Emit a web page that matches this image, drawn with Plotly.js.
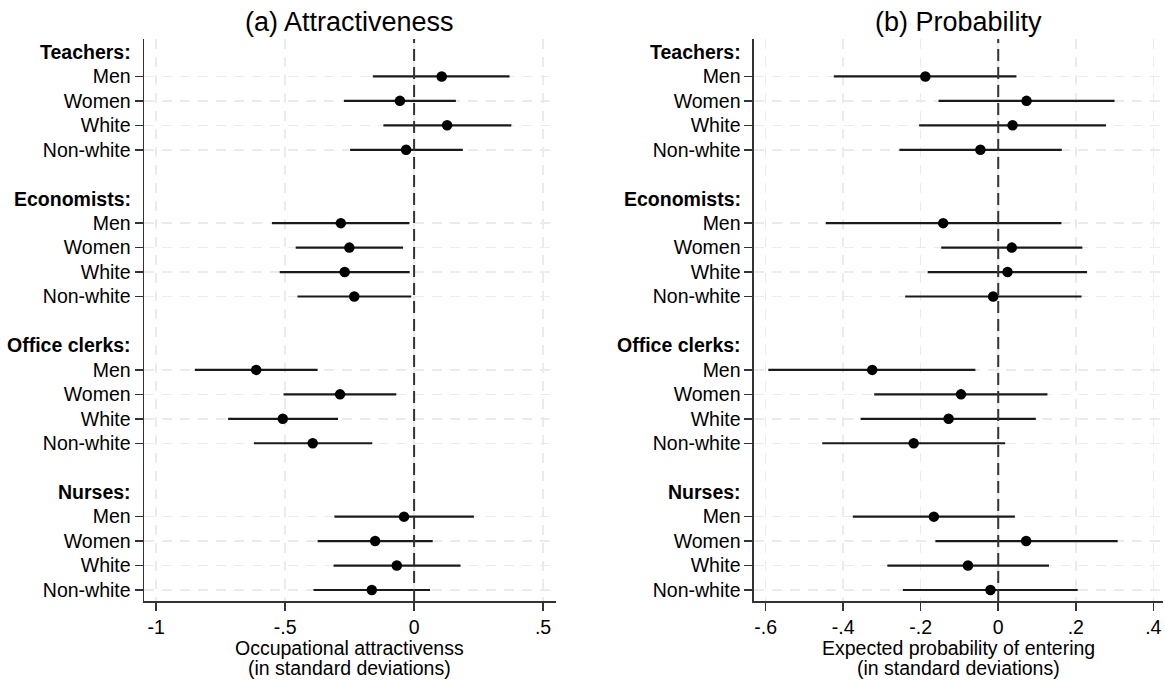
<!DOCTYPE html>
<html>
<head>
<meta charset="utf-8">
<script src="https://cdn.plot.ly/plotly-3.0.1.min.js"></script>
<style>
  html, body { margin: 0; padding: 0; background: #fff; }
  #chart { width: 1165px; height: 683px; }
</style>
</head>
<body>
<div id="chart"></div>
<script>
// Occupation groups and the subgroups shown under each of them
const groups = ['Teachers:', 'Economists:', 'Office clerks:', 'Nurses:'];
const subgroups = ['Men', 'Women', 'White', 'Non-white'];

// (a) Occupational attractiveness, in standard deviations: estimate and CI bounds
const attrEst = [0.107, -0.055, 0.128, -0.031,
                 -0.284, -0.251, -0.269, -0.232,
                 -0.612, -0.287, -0.509, -0.393,
                 -0.039, -0.151, -0.067, -0.164];
const attrLo  = [-0.160, -0.272, -0.119, -0.248,
                 -0.551, -0.459, -0.521, -0.452,
                 -0.850, -0.506, -0.721, -0.621,
                 -0.309, -0.374, -0.312, -0.390];
const attrHi  = [0.370, 0.162, 0.377, 0.189,
                 -0.018, -0.043, -0.017, -0.011,
                 -0.374, -0.069, -0.295, -0.162,
                 0.232, 0.072, 0.180, 0.062];

// (b) Expected probability of entering, in standard deviations
const probEst = [-0.188, 0.073, 0.037, -0.046,
                 -0.142, 0.035, 0.024, -0.013,
                 -0.325, -0.096, -0.128, -0.218,
                 -0.166, 0.072, -0.078, -0.020];
const probLo  = [-0.424, -0.154, -0.204, -0.255,
                 -0.445, -0.147, -0.182, -0.240,
                 -0.593, -0.320, -0.355, -0.454,
                 -0.375, -0.162, -0.286, -0.246];
const probHi  = [0.047, 0.300, 0.278, 0.164,
                 0.163, 0.217, 0.229, 0.215,
                 -0.059, 0.127, 0.097, 0.018,
                 0.043, 0.308, 0.131, 0.205];

// Tick labels for the two x axes
const attrTicks = [-1, -0.5, 0, 0.5];
const attrTickText = ['-1', '-.5', '0', '.5'];
const probTicks = [-0.6, -0.4, -0.2, 0, 0.2, 0.4];
const probTickText = ['-.6', '-.4', '-.2', '0', '.2', '.4'];

// Row layout: each group gets a header row, four subgroup rows and a spacer row
const rowsPerGroup = subgroups.length + 2;
const headerRows = groups.map((g, gi) => gi * rowsPerGroup);
const dataRows = [];
const dataLabels = [];
groups.forEach((g, gi) => {
  subgroups.forEach((s, si) => {
    dataRows.push(gi * rowsPerGroup + 1 + si);
    dataLabels.push(s);
  });
});

const FONT = 'Liberation Sans, Arial, Helvetica, sans-serif';
const INK = '#000000';
const AXIS = '#333333';
const LABEL_SIZE = 19.5;

function panelTrace(est, lo, hi, xa, ya) {
  return {
    type: 'scatter',
    mode: 'markers',
    x: est,
    y: dataRows,
    xaxis: xa,
    yaxis: ya,
    marker: { color: INK, size: 10.5, line: { width: 0 } },
    error_x: {
      type: 'data',
      symmetric: false,
      array: hi.map((h, i) => h - est[i]),
      arrayminus: lo.map((l, i) => est[i] - l),
      color: '#1a1a1a',
      thickness: 2.2,
      width: 0
    },
    hoverinfo: 'x+y',
    showlegend: false
  };
}

const data = [
  panelTrace(attrEst, attrLo, attrHi, 'x', 'y'),
  panelTrace(probEst, probLo, probHi, 'x2', 'y2')
];

const yRange = [22.45, -0.53];

function xAxis(domain, range, tickvals, ticktext, anchor) {
  return {
    domain: domain,
    range: range,
    anchor: anchor,
    tickmode: 'array',
    tickvals: tickvals,
    ticktext: ticktext,
    ticks: 'outside',
    ticklen: 8,
    tickwidth: 1.5,
    tickcolor: AXIS,
    showline: true,
    linecolor: AXIS,
    linewidth: 1.5,
    showgrid: true,
    gridcolor: '#ebebeb',
    gridwidth: 1.5,
    griddash: '10px,8px',
    zeroline: false,
    tickfont: { family: FONT, size: LABEL_SIZE, color: INK },
    fixedrange: true
  };
}

function yAxis(anchor) {
  return {
    anchor: anchor,
    domain: [0, 1],
    range: yRange,
    tickmode: 'array',
    tickvals: dataRows,
    ticktext: dataLabels,
    ticks: 'outside',
    ticklen: 8,
    tickwidth: 1.5,
    tickcolor: AXIS,
    showline: true,
    linecolor: AXIS,
    linewidth: 1.5,
    showgrid: true,
    gridcolor: '#ebebeb',
    gridwidth: 1.5,
    griddash: '10px,8px',
    zeroline: false,
    tickfont: { family: FONT, size: LABEL_SIZE, color: INK },
    fixedrange: true
  };
}

const annotations = [];

// Bold occupation headers to the left of each axis
[['x', 'y'], ['x2', 'y2']].forEach(([xa, ya]) => {
  groups.forEach((g, gi) => {
    annotations.push({
      xref: xa + ' domain', yref: ya,
      x: 0, y: headerRows[gi],
      xanchor: 'right', yanchor: 'middle',
      xshift: -11,
      text: '<b>' + g + '</b>',
      showarrow: false,
      font: { family: FONT, size: LABEL_SIZE, color: INK }
    });
  });
});

// Panel titles
[['x', '(a) Attractiveness'], ['x2', '(b) Probability']].forEach(([xa, t]) => {
  annotations.push({
    xref: xa + ' domain', yref: 'paper',
    x: 0.5, y: 1, xanchor: 'center', yanchor: 'middle',
    yshift: 17,
    text: t, showarrow: false,
    font: { family: FONT, size: 27, color: INK }
  });
});

// Two-line x-axis titles
[['x', 'Occupational attractivenss'], ['x2', 'Expected probability of entering']].forEach(([xa, t]) => {
  annotations.push({
    xref: xa + ' domain', yref: 'paper',
    x: 0.5, y: 0, xanchor: 'center', yanchor: 'middle',
    yshift: -47,
    text: t, showarrow: false,
    font: { family: FONT, size: LABEL_SIZE, color: INK }
  });
  annotations.push({
    xref: xa + ' domain', yref: 'paper',
    x: 0.5, y: 0, xanchor: 'center', yanchor: 'middle',
    yshift: -67,
    text: '(in standard deviations)', showarrow: false,
    font: { family: FONT, size: LABEL_SIZE, color: INK }
  });
});

// Dashed reference line at zero in each panel
const shapes = ['x', 'x2'].map((xa, i) => ({
  type: 'line',
  xref: xa, yref: 'paper',
  x0: 0, x1: 0, y0: 0, y1: 1,
  layer: 'above',
  line: { color: '#333333', width: 2, dash: '12px,6px' }
}));

const layout = {
  width: 1165,
  height: 683,
  margin: { l: 144, r: 2, t: 39, b: 82 },
  paper_bgcolor: '#ffffff',
  plot_bgcolor: '#ffffff',
  font: { family: FONT, color: INK },
  showlegend: false,
  xaxis: xAxis([0, 0.4043], [-1.047, 0.55], attrTicks, attrTickText, 'y'),
  yaxis: yAxis('x'),
  xaxis2: xAxis([0.5986, 1], [-0.630, 0.425], probTicks, probTickText, 'y2'),
  yaxis2: yAxis('x2'),
  annotations: annotations,
  shapes: shapes
};

Plotly.newPlot('chart', data, layout, { displayModeBar: false, staticPlot: true });
</script>
</body>
</html>
